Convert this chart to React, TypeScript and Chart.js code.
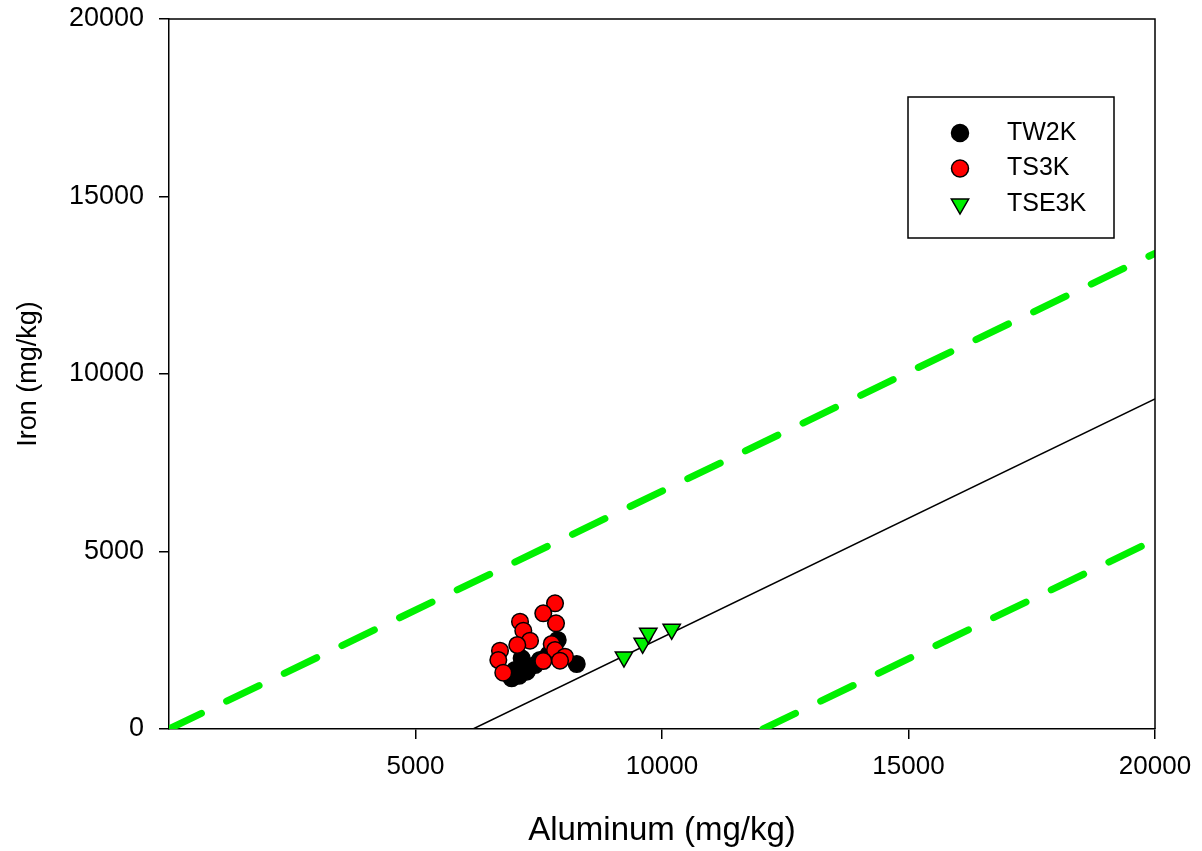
import React, { useEffect, useRef } from "react";
import { Chart, registerables } from "chart.js";
Chart.register(...registerables);

// Data (mg/kg)
const tw2kAl = [7884, 8270, 7154, 7018, 6951, 7256, 7424, 7525, 7100, 7700];
const tw2kFe = [2507, 1831, 1992, 1662, 1428, 1614, 1803, 1944, 1500, 2100];
const ts3kAl = [7830, 7592, 7850, 7120, 7187, 7323, 7065, 6714, 6680, 6781, 7763, 7830, 8032, 7592, 7931];
const ts3kFe = [3541, 3259, 2977, 3023, 2769, 2487, 2366, 2206, 1944, 1586, 2394, 2225, 2037, 1915, 1924];
const tse3kAl = [9229, 9608, 9722, 10197];
const tse3kFe = [2028, 2414, 2696, 2808];
const fitAl = [6166, 20000];
const fitFe = [0, 9300];
const upperAl = [0, 20000];
const upperFe = [0, 13400];
const lowerAl = [12050, 20000];
const lowerFe = [0, 5330];
const axisMin = 0;
const axisMax = 20000;
const axisStep = 5000;
const seriesNames = ["TW2K", "TS3K", "TSE3K"];

const FONT = 'Arial, "Liberation Sans", sans-serif';
const GREEN = "#00f000";

const pts = (xs: number[], ys: number[]) => xs.map((x, i) => ({ x, y: ys[i] }));

const framePlugin = {
  id: "frameLegend",
  afterDatasetsDraw(chart: any) {
    const { ctx, chartArea: a } = chart;
    ctx.save();
    ctx.strokeStyle = "#000";
    ctx.lineWidth = 1.5;
    ctx.beginPath();
    ctx.moveTo(a.left, a.top);
    ctx.lineTo(a.right, a.top);
    ctx.lineTo(a.right, a.bottom);
    ctx.stroke();

    // legend box
    const bx = a.right - 247;
    const by = a.top + 78;
    const bw = 206;
    const bh = 141;
    ctx.fillStyle = "#fff";
    ctx.fillRect(bx, by, bw, bh);
    ctx.strokeRect(bx, by, bw, bh);
    const fills = ["#000000", "#ff0000", GREEN];
    seriesNames.forEach((name, i) => {
      const y = by + 36 + i * 35.5;
      const mx = bx + 52;
      ctx.fillStyle = fills[i];
      ctx.strokeStyle = "#000";
      ctx.lineWidth = 1.5;
      ctx.beginPath();
      if (i < 2) {
        ctx.arc(mx, y, 8.5, 0, Math.PI * 2);
      } else {
        const r = 10;
        ctx.moveTo(mx - r * 0.866, y - r * 0.5);
        ctx.lineTo(mx + r * 0.866, y - r * 0.5);
        ctx.lineTo(mx, y + r);
        ctx.closePath();
      }
      ctx.fill();
      ctx.stroke();
      ctx.fillStyle = "#000";
      ctx.font = `25px ${FONT}`;
      ctx.textAlign = "left";
      ctx.textBaseline = "middle";
      ctx.fillText(name, bx + 99, y);
    });
    ctx.restore();
  },
};

export default function App() {
  const ref = useRef<HTMLCanvasElement>(null);
  useEffect(() => {
    document.body.style.margin = "0";
    const canvas = ref.current!;
    const tickFmt = (v: any) => String(v);
    const chart = new Chart(canvas, {
      type: "scatter",
      data: {
        datasets: [
          {
            label: "upper",
            data: pts(upperAl, upperFe),
            showLine: true,
            borderColor: GREEN,
            borderWidth: 7,
            borderDash: [36, 28],
            borderCapStyle: "round",
            pointRadius: 0,
            order: 10,
          },
          {
            label: "lower",
            data: pts(lowerAl, lowerFe),
            showLine: true,
            borderColor: GREEN,
            borderWidth: 7,
            borderDash: [36, 28],
            borderCapStyle: "round",
            pointRadius: 0,
            order: 10,
          },
          {
            label: "fit",
            data: pts(fitAl, fitFe),
            showLine: true,
            borderColor: "#000",
            borderWidth: 1.5,
            pointRadius: 0,
            order: 9,
          },
          {
            label: seriesNames[0],
            data: pts(tw2kAl, tw2kFe),
            backgroundColor: "#000",
            borderColor: "#000",
            borderWidth: 1.5,
            pointRadius: 8.3,
            order: 3,
          },
          {
            label: seriesNames[1],
            data: pts(ts3kAl, ts3kFe),
            backgroundColor: "#ff0000",
            borderColor: "#000",
            borderWidth: 1.5,
            pointRadius: 8.3,
            order: 2,
          },
          {
            label: seriesNames[2],
            data: pts(tse3kAl, tse3kFe),
            backgroundColor: GREEN,
            borderColor: "#000",
            borderWidth: 1.5,
            pointRadius: 10,
            pointStyle: "triangle",
            rotation: 180,
            order: 1,
          },
        ] as any,
      },
      options: {
        animation: false,
        responsive: false,
        layout: { padding: { top: 19, right: 47, left: 0, bottom: 0 } },
        plugins: { legend: { display: false }, tooltip: { enabled: false } },
        scales: {
          x: {
            type: "linear",
            min: axisMin,
            max: axisMax,
            afterFit: (s: any) => {
              s.height = 122;
              s.paddingLeft = 0;
              s.paddingRight = 0;
            },
            border: { color: "#000", width: 1.5 },
            grid: {
              drawOnChartArea: false,
              drawTicks: true,
              tickLength: 10,
              lineWidth: 1.5,
              color: (c: any) => (c.tick && c.tick.value === 0 ? "rgba(0,0,0,0)" : "#000"),
            },
            ticks: {
              stepSize: axisStep,
              color: "#000",
              padding: 12,
              maxRotation: 0,
              font: { family: FONT, size: 26 },
              callback: (v: any) => (v === 0 ? "" : tickFmt(v)),
            },
            title: {
              display: true,
              text: "Aluminum (mg/kg)",
              color: "#000",
              font: { family: FONT, size: 33 },
              padding: { top: 3, bottom: 0 },
            },
          },
          y: {
            type: "linear",
            min: axisMin,
            max: axisMax,
            afterFit: (s: any) => {
              s.width = 169;
              s.paddingTop = 0;
              s.paddingBottom = 0;
            },
            border: { color: "#000", width: 1.5 },
            grid: {
              drawOnChartArea: false,
              drawTicks: true,
              tickLength: 10,
              lineWidth: 1.5,
              color: "#000",
            },
            ticks: {
              stepSize: axisStep,
              color: "#000",
              padding: 15,
              font: { family: FONT, size: 27 },
              callback: tickFmt,
            },
            title: {
              display: true,
              text: "Iron (mg/kg)",
              color: "#000",
              font: { family: FONT, size: 27 },
              padding: { top: 12, bottom: 0 },
            },
          },
        },
      },
      plugins: [framePlugin],
    } as any);
    return () => chart.destroy();
  }, []);
  return (
    <div style={{ width: 1202, height: 851 }}>
      <canvas ref={ref} width={1202} height={851} style={{ display: "block" }} />
    </div>
  );
}
